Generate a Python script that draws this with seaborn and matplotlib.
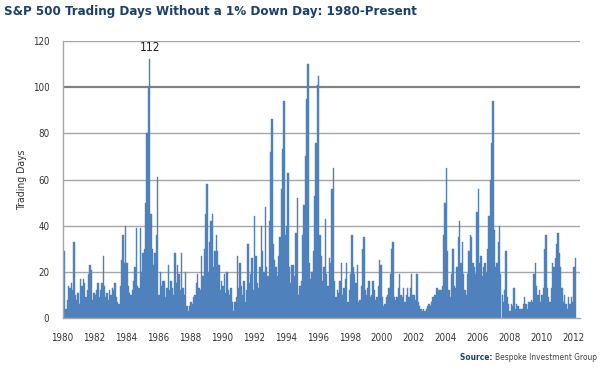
import matplotlib
matplotlib.use('Agg')
import matplotlib.pyplot as plt
import numpy as np
import pandas as pd
import seaborn as sns

# trading days without a 1% down day (Jan 1980 on)
days_1980s = [13, 29, 4, 8, 14, 13, 15, 12, 33, 10, 8, 11,
              6, 17, 14, 17, 15, 9, 12, 19, 23, 21, 8, 11,
              10, 12, 15, 9, 12, 15, 27, 14, 9, 11, 8, 12,
              10, 13, 12, 15, 9, 7, 6, 14, 25, 36, 24, 40,
              24, 14, 11, 10, 12, 16, 22, 39, 14, 13, 39, 20,
              28, 30, 50, 80, 100, 112, 45, 30, 23, 28, 36, 61,
              10, 20, 14, 16, 16, 9, 13, 23, 12, 16, 13, 10,
              28, 15, 23, 19, 12, 28, 13, 10, 20, 5, 3, 5,
              7, 6, 9, 10, 15, 19, 13, 12, 27, 18, 30, 45,
              58, 20, 33, 42, 45, 22, 29, 36, 29, 23, 12, 16]
days_1990s = [14, 19, 11, 20, 12, 10, 13, 7, 3, 7, 9, 27,
              13, 24, 14, 10, 16, 7, 12, 32, 15, 19, 26, 12,
              44, 27, 15, 13, 22, 40, 29, 20, 48, 22, 18, 42,
              72, 86, 32, 25, 22, 18, 27, 35, 56, 73, 94, 36,
              40, 63, 22, 15, 23, 23, 18, 37, 52, 10, 14, 16,
              36, 49, 70, 95, 110, 24, 17, 20, 29, 53, 76, 101,
              105, 36, 27, 16, 22, 43, 19, 14, 26, 24, 56, 65,
              16, 9, 12, 11, 16, 24, 10, 13, 17, 24, 7, 12,
              19, 36, 22, 19, 15, 23, 7, 8, 14, 30, 35, 12,
              10, 13, 16, 9, 10, 16, 12, 8, 9, 14, 25, 23]
days_2000s = [9, 5, 6, 9, 10, 13, 19, 30, 33, 9, 8, 9,
              13, 19, 10, 9, 13, 7, 10, 13, 9, 13, 19, 10,
              10, 8, 19, 7, 5, 4, 3, 4, 3, 4, 5, 6,
              5, 7, 9, 10, 10, 13, 12, 12, 12, 14, 36, 50,
              65, 29, 12, 9, 19, 30, 14, 13, 22, 35, 42, 24,
              33, 19, 12, 10, 19, 29, 36, 35, 24, 22, 19, 46,
              56, 24, 27, 18, 22, 24, 20, 30, 44, 60, 76, 94,
              38, 22, 24, 33, 40, 19, 10, 7, 12, 29, 9, 6,
              3, 6, 5, 13, 4, 6, 5, 4, 4, 4, 6, 9,
              6, 4, 7, 7, 8, 7, 19, 24, 14, 10, 12, 7]
days_2010s = [10, 13, 30, 36, 13, 9, 7, 13, 24, 22, 26, 32,
              37, 28, 22, 13, 7, 10, 6, 4, 9, 6, 9, 7,
              22, 26]
year_ticks = list(range(1980, 2013, 2))
y_ticks = [0, 20, 40, 60, 80, 100, 120]

values = days_1980s + days_1990s + days_2000s + days_2010s
df = pd.DataFrame({'t': 1980 + (np.arange(len(values)) + 0.5) / 12, 'days': values})

sns.set_style('white')
plt.rcParams['font.family'] = ['DejaVu Sans']
plt.rcParams['font.stretch'] = 'condensed'

blue = '#4F81BD'
navy = '#1B3F6E'
grid_c = '#A6A6A6'

fig = plt.figure(figsize=(6, 3.68), dpi=100)
ax = fig.add_axes([62.6 / 600, 1 - 318 / 368, (580 - 62.6) / 600, (318 - 41) / 368])

sns.barplot(data=df, x='t', y='days', native_scale=True, color=blue, saturation=1,
            width=1, errorbar=None, linewidth=0.3, edgecolor=blue, ax=ax)

ax.set_ylim(0, 120)
ax.set_xlim(1980, 1980 + (580 - 62.6) / 15.96)
ax.set_yticks(y_ticks)
ax.set_xticks(year_ticks)
ax.set_xticklabels([str(y) for y in year_ticks])
for y in y_ticks[1:]:
    if y == 100:
        ax.axhline(y, color='#808080', lw=1.6, zorder=0)
    else:
        ax.axhline(y, color=grid_c, lw=1.0, zorder=0)

for s in ['top', 'right']:
    ax.spines[s].set_visible(False)
for s in ['left', 'bottom']:
    ax.spines[s].set_color(grid_c)
    ax.spines[s].set_linewidth(1.0)
ax.tick_params(axis='both', direction='out', length=3.5, width=1, color=grid_c,
               labelsize=7, labelcolor='#333333')
ax.tick_params(axis='y', pad=6)
ax.tick_params(axis='x', pad=7)
ax.set_xlabel('')
ax.set_ylabel('')

# peak label
i_max = int(np.argmax(values))
ax.annotate(str(values[i_max]), (df['t'][i_max], values[i_max]), xytext=(0, 4),
            textcoords='offset points', ha='center', va='bottom', fontsize=8.5, color='#222222')

fig.text(22 / 600, 1 - 180 / 368, 'Trading Days', rotation=90, ha='center', va='center',
         fontsize=7.5, color='#333333')
fig.text(4 / 600, 1 - 12 / 368, 'S&P 500 Trading Days Without a 1% Down Day: 1980-Present',
         ha='left', va='center', fontsize=9.5, fontweight='bold', color=navy)
src = fig.text(597 / 600, 1 - 357 / 368, 'Bespoke Investment Group', ha='right', va='center',
               fontsize=6, color='#444444')
ax.annotate('Source: ', xy=(0, 0.5), xycoords=src, ha='right', va='center',
            fontsize=6, fontweight='bold', color=navy)

fig.savefig('out.png', dpi=100)
